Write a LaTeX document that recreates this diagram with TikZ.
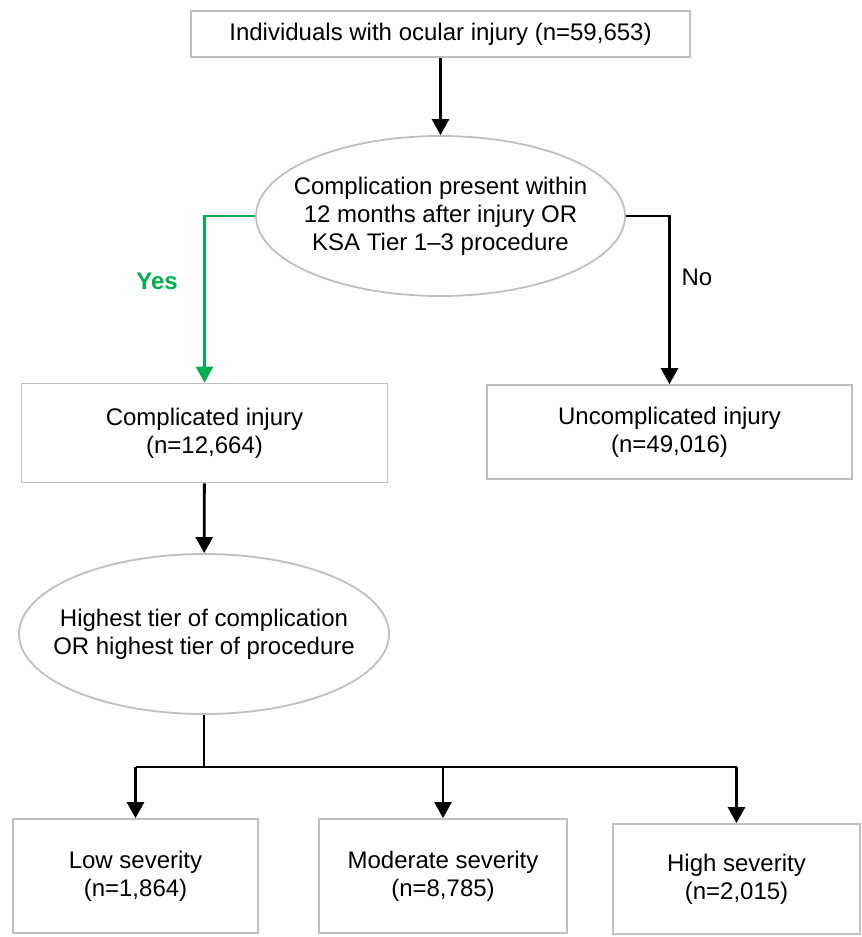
\documentclass[tikz,border=0pt]{standalone}
\usepackage{fontspec}
\setmainfont{Liberation Sans}
\usetikzlibrary{shapes.geometric,arrows.meta}
\definecolor{yesgreen}{HTML}{00B050}
\definecolor{boxgray}{HTML}{BFBFBF}

\begin{document}
\begin{tikzpicture}[x=1pt, y=-1pt,
    every node/.style={font=\fontsize{24}{28}\selectfont, align=center},
    flowbox/.style={draw=boxgray, line width=1.8pt, inner sep=0pt},
    choice/.style={draw=boxgray, line width=1.8pt, ellipse, inner xsep=-25pt, inner ysep=0pt},
    link/.style={line width=2.8pt},
    arr/.style={link, -{Triangle[width=17pt,length=16pt]}}]
    \useasboundingbox (0,0) rectangle (862,937);

    % Top box
    \node[flowbox, minimum width=499, minimum height=46] (total) at (440.5,34)
        {Individuals with ocular injury (n=59,653)};

    % First decision
    \node[choice, minimum width=369, minimum height=160] (decide) at (440.5,216)
        {Complication present within\\12 months after injury OR\\KSA Tier 1--3 procedure};

    % Complicated / uncomplicated
    \node[flowbox, minimum width=366, minimum height=99] (compl) at (204.5,433)
        {Complicated injury\\(n=12,664)};
    \node[flowbox, minimum width=365, minimum height=94] (uncompl) at (669.5,432)
        {Uncomplicated injury\\(n=49,016)};

    % Second decision
    \node[choice, minimum width=370, minimum height=160] (tier) at (204,634)
        {Highest tier of complication\\OR highest tier of procedure};

    % Severity boxes
    \node[flowbox, minimum width=245, minimum height=114] (low) at (135.5,876)
        {Low severity\\(n=1,864)};
    \node[flowbox, minimum width=248, minimum height=114] (moderate) at (443,876)
        {Moderate severity\\(n=8,785)};
    \node[flowbox, minimum width=247, minimum height=110] (high) at (736.5,879)
        {High severity\\(n=2,015)};

    % Arrows
    \draw[arr] (total) -- (decide);
    \draw[arr, yesgreen] (decide.west) -| (compl.north);
    \draw[arr] (decide.east) -| (uncompl.north);
    \draw[arr] (compl) -- (tier);

    % Branch to severity
    \coordinate (split) at (204,767);
    \draw[link] (tier.south) -- (split);
    \draw[link] (low.north |- split) -- (high.north |- split);
    \draw[arr] (low.north |- split) -- (low.north);
    \draw[arr] (moderate.north |- split) -- (moderate.north);
    \draw[arr] (high.north |- split) -- (high.north);

    % Labels
    \node[yesgreen, font=\fontsize{24}{28}\selectfont\bfseries] (yes) at (157,281) {Yes};
    \node (no) at (697,277) {No};
\end{tikzpicture}
\end{document}
